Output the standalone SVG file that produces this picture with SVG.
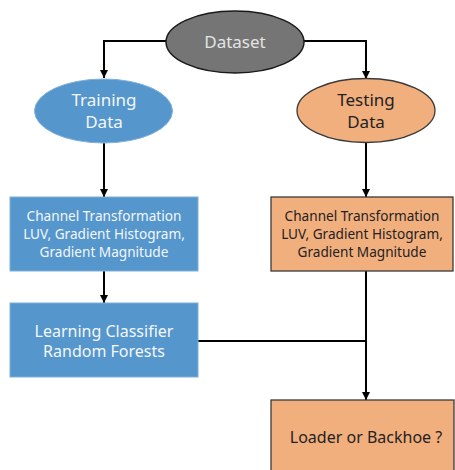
<svg xmlns="http://www.w3.org/2000/svg" width="455" height="470" viewBox="0 0 455 470">
<defs>
<marker id="ah" viewBox="0 0 10 10" refX="10" refY="5" markerWidth="8" markerHeight="8" markerUnits="userSpaceOnUse" orient="auto">
<path d="M0,0 L10,5 L0,10 z" fill="#000"/>
</marker>
<style>
text{font-family:"Noto Sans","Open Sans",sans-serif;text-anchor:middle}
.blue{fill:#5596cc;stroke:#7fb0dc;stroke-width:1}
.orange{fill:#f2af7e;stroke:#3a3a3a;stroke-width:1.3}
.w{fill:#f4f7fb}
.d{fill:#222}
.conn{fill:none;stroke:#000;stroke-width:2}
.s{font-size:13.6px}
.m{font-size:16px}
.l{font-size:17px}
</style>
</defs>
<rect width="455" height="470" fill="#fff"/>
<g id="connectors">
<path class="conn" d="M166,41 H104 V78" marker-end="url(#ah)"/>
<path class="conn" d="M304,41 H366 V79" marker-end="url(#ah)"/>
<path class="conn" d="M104,143 V197" marker-end="url(#ah)"/>
<path class="conn" d="M366,142 V197" marker-end="url(#ah)"/>
<path class="conn" d="M104,271 V303" marker-end="url(#ah)"/>
<path class="conn" d="M366,271 V400" marker-end="url(#ah)"/>
<path class="conn" d="M198,341 H366"/>
</g>
<g id="dataset">
<ellipse cx="235" cy="42" rx="69" ry="31" fill="#757575" stroke="#1a1a1a" stroke-width="1.5"/>
<text class="l" x="235" y="48" fill="#e4e4e4" font-size="17.5">Dataset</text>
</g>
<g id="training">
<ellipse class="blue" cx="103.5" cy="111" rx="69" ry="32"/>
<text class="w l" x="104" y="106">Training</text>
<text class="w l" x="104" y="128">Data</text>
</g>
<g id="testing">
<ellipse class="orange" cx="366" cy="110.5" rx="69" ry="32"/>
<text class="d l" x="366" y="106">Testing</text>
<text class="d l" x="366" y="128">Data</text>
</g>
<g id="train-transform">
<rect class="blue" x="10" y="197" width="188" height="74"/>
<text class="w s" x="104" y="221">Channel Transformation</text>
<text class="w s" x="104" y="239">LUV, Gradient Histogram,</text>
<text class="w s" x="104" y="257">Gradient Magnitude</text>
</g>
<g id="test-transform">
<rect class="orange" x="271" y="197" width="182" height="74"/>
<text class="d s" x="362" y="221">Channel Transformation</text>
<text class="d s" x="362" y="239">LUV, Gradient Histogram,</text>
<text class="d s" x="362" y="257">Gradient Magnitude</text>
</g>
<g id="classifier">
<rect class="blue" x="10" y="303" width="188" height="74"/>
<text class="w m" x="104" y="337">Learning Classifier</text>
<text class="w m" x="104" y="357">Random Forests</text>
</g>
<g id="result">
<rect class="orange" x="271" y="400" width="183" height="80" stroke="#7fa0c8"/>
<text class="d m" x="366" y="443">Loader or Backhoe ?</text>
</g>
</svg>
